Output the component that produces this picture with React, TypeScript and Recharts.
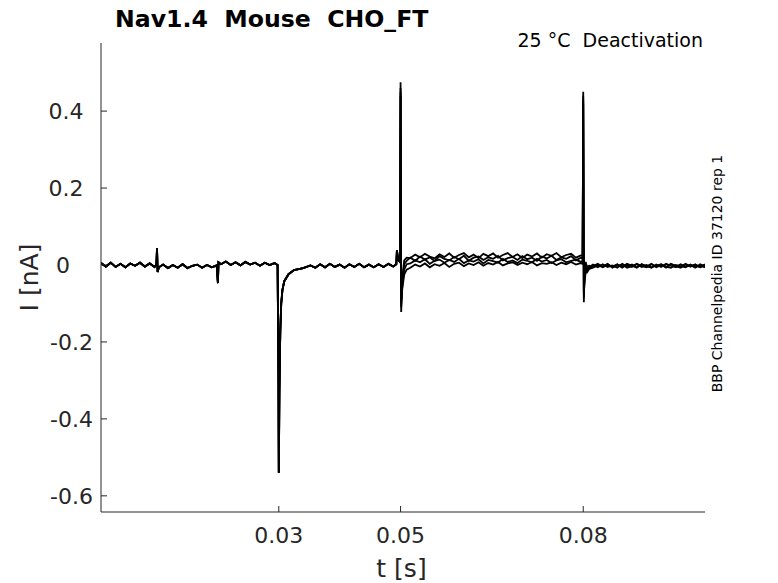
import React from 'react';
import { LineChart, Line, XAxis, YAxis } from 'recharts';

// shared part of every sweep, up to the step at 0.05 s
const preTime = [
  0.0008, 0.0016, 0.0024, 0.0032, 0.004, 0.0048, 0.0056, 0.0064, 0.0072, 0.008,
  0.0088, 0.0096, 0.0099, 0.01, 0.0101, 0.0103, 0.011, 0.0118, 0.0126, 0.0134,
  0.0142, 0.015, 0.0158, 0.0166, 0.0174, 0.0182, 0.019, 0.0198, 0.02, 0.0201,
  0.0205, 0.0213, 0.0221, 0.0229, 0.0237, 0.0245, 0.0253, 0.0261, 0.0269, 0.0277,
  0.0285, 0.0293, 0.0298, 0.02995, 0.03, 0.03005, 0.0301, 0.03025, 0.0304, 0.0306,
  0.0309, 0.0316, 0.0325, 0.034, 0.0352, 0.036, 0.0368, 0.0376, 0.0384, 0.0392,
  0.04, 0.0408, 0.0416, 0.0424, 0.0432, 0.044, 0.0448, 0.0456, 0.0464, 0.0472,
  0.048, 0.0488, 0.0493, 0.0494, 0.0496, 0.0499,
];
const preCurrent = [
  0.005, -0.004, 0.006, -0.005, 0.003, -0.006, 0.004, -0.002, 0.006, -0.004,
  0.004, -0.005, 0.002, 0.044, -0.018, -0.006, 0.001, -0.008, 0.0, -0.007,
  0.002, -0.008, -0.002, 0.001, -0.007, 0.0, -0.006, -0.001, -0.047, 0.007,
  0.002, 0.009, 0.0, 0.007, -0.001, 0.008, 0.001, 0.006, -0.002, 0.006,
  0.0, 0.005, 0.0, -0.3, -0.54, -0.45, -0.33, -0.17, -0.1, -0.065,
  -0.042, -0.024, -0.013, -0.008, -0.001, -0.007, 0.002, -0.006, 0.003, -0.005,
  0.001, -0.007, 0.002, -0.005, 0.003, -0.006, 0.001, -0.006, 0.002, -0.005,
  0.003, -0.004, 0.002, 0.038, 0.014, 0.008,
];

// per-sweep tails from 0.05 s on
const tailTime = [
  0.05, 0.0501, 0.0503, 0.0506, 0.051,
  0.0516, 0.0524, 0.0532, 0.054, 0.0548, 0.0556, 0.0564, 0.0572, 0.058, 0.0588,
  0.0596, 0.0604, 0.0612, 0.062, 0.0628, 0.0636, 0.0644, 0.0652, 0.066, 0.0668,
  0.0676, 0.0684, 0.0692, 0.07, 0.0708, 0.0716, 0.0724, 0.0732, 0.074, 0.0748,
  0.0756, 0.0764, 0.0772, 0.078, 0.0788, 0.0796,
  0.0799, 0.08, 0.0801, 0.0802, 0.0804, 0.0806, 0.081,
  0.0816, 0.0824, 0.0832, 0.084, 0.0848, 0.0856, 0.0864, 0.0872, 0.088, 0.0888,
  0.0896, 0.0904, 0.0912, 0.092, 0.0928, 0.0936, 0.0944, 0.0952, 0.096, 0.0968,
  0.0976, 0.0984, 0.0992, 0.1,
];
const sweepA = [
  0.475, -0.122, -0.03, 0.012, 0.019,
  0.018, 0.027, 0.02, 0.029, 0.022, 0.017, 0.028, 0.021, 0.03, 0.019,
  0.026, 0.031, 0.02, 0.027, 0.018, 0.029, 0.023, 0.03, 0.019, 0.026,
  0.031, 0.021, 0.028, 0.018, 0.027, 0.022, 0.03, 0.019, 0.028, 0.024,
  0.031, 0.02, 0.026, 0.029, 0.019, 0.025,
  0.024, 0.45, -0.097, -0.03, 0.008, -0.004, -0.002,
  -0.006, 0.002, -0.004, 0.003, -0.007, 0.001, -0.005, 0.003, -0.002, -0.007,
  0.002, -0.004, 0.003, -0.006, 0.0, -0.005, 0.003, -0.003, -0.007, 0.002,
  -0.004, 0.001, -0.006, 0.002,
];
const sweepB = [
  0.46, -0.11, -0.04, 0.002, 0.011,
  0.019, 0.011, 0.022, 0.014, 0.02, 0.01, 0.023, 0.016, 0.012, 0.021,
  0.015, 0.024, 0.011, 0.019, 0.022, 0.013, 0.02, 0.016, 0.024, 0.012,
  0.018, 0.021, 0.013, 0.023, 0.015, 0.019, 0.011, 0.022, 0.017, 0.024,
  0.013, 0.02, 0.016, 0.023, 0.012, 0.019,
  0.017, 0.44, -0.085, -0.035, 0.0, -0.009, -0.005,
  0.001, -0.006, 0.002, -0.005, -0.001, -0.007, 0.003, -0.004, 0.001, -0.006,
  0.002, -0.003, -0.007, 0.001, -0.005, 0.003, -0.002, -0.006, 0.002, -0.004,
  0.0, -0.007, 0.002, -0.003,
];
const sweepC = [
  0.45, -0.1, -0.05, -0.012, 0.002,
  0.004, 0.012, 0.007, 0.015, 0.003, 0.011, 0.014, 0.006, 0.013, 0.008,
  0.016, 0.005, 0.012, 0.009, 0.015, 0.004, 0.013, 0.01, 0.006, 0.016,
  0.008, 0.012, 0.005, 0.014, 0.011, 0.007, 0.016, 0.009, 0.013, 0.005,
  0.012, 0.015, 0.007, 0.011, 0.014, 0.008,
  0.01, 0.43, -0.075, -0.04, -0.01, -0.015, -0.007,
  -0.003, 0.003, -0.006, 0.0, -0.004, 0.002, -0.007, 0.001, -0.005, 0.003,
  -0.003, -0.006, 0.002, -0.004, 0.001, -0.007, 0.002, -0.002, -0.005, 0.003,
  -0.004, 0.001, -0.006, 0.0,
];
const sweepD = [
  0.44, -0.09, -0.06, -0.025, -0.012,
  -0.007, 0.001, -0.004, 0.004, -0.006, 0.002, -0.002, 0.005, -0.005, 0.003,
  0.006, -0.003, 0.004, 0.0, 0.007, -0.002, 0.005, 0.001, 0.008, -0.001,
  0.004, 0.007, 0.0, 0.006, 0.002, 0.008, -0.001, 0.005, 0.003, 0.007,
  0.0, 0.006, 0.002, 0.008, 0.001, 0.005,
  0.003, 0.42, -0.065, -0.045, -0.02, -0.02, -0.01,
  -0.007, -0.001, -0.005, 0.002, -0.006, -0.002, 0.001, -0.007, -0.003, 0.002,
  -0.005, 0.0, -0.006, -0.002, 0.002, -0.004, -0.007, 0.0, -0.003, -0.006,
  0.001, -0.005, -0.002, -0.006,
];

const xTicks = [0.03, 0.05, 0.08];
const yTicks = [-0.6, -0.4, -0.2, 0, 0.2, 0.4];

const sweeps = [sweepA, sweepB, sweepC, sweepD].map((tail) => [
  ...preTime.map((t, k) => ({ t, i: preCurrent[k] })),
  ...tailTime.map((t, k) => ({ t, i: tail[k] })),
]);

const font = '"DejaVu Sans", sans-serif';
const axisColor = '#262626';

const XTick = ({ x, y, payload }: any) => (
  <g>
    <line x1={x} y1={y} x2={x} y2={y - 6} stroke={axisColor} />
    <text x={x} y={y + 30.5} textAnchor="middle" fontSize={22} fontFamily={font} fill={axisColor}>
      {String(payload.value)}
    </text>
  </g>
);

const YTick = ({ x, y, payload }: any) => {
  const v = payload.value;
  const neg = v < 0;
  return (
    <g>
      <line x1={x} y1={y} x2={x + 6} y2={y} stroke={axisColor} />
      <text
        x={neg ? x - 8 : x - (v === 0 ? 38 : 35)}
        y={y + 8}
        textAnchor={neg ? 'end' : 'middle'}
        fontSize={22}
        fontFamily={font}
        fill={axisColor}
      >
        {String(v)}
      </text>
    </g>
  );
};

export default function App() {
  return (
    <div style={{ position: 'absolute', left: 0, top: 0, width: 778, height: 583, background: '#fff' }}>
      <LineChart width={778} height={583} margin={{ top: 43, right: 73, bottom: 41, left: 41 }}>
        <XAxis
          type="number"
          dataKey="t"
          domain={[0.0008, 0.1]}
          ticks={xTicks}
          allowDataOverflow
          height={30}
          tickSize={0}
          tickMargin={0}
          tickLine={false}
          axisLine={{ stroke: axisColor }}
          tick={<XTick />}
        />
        <YAxis
          type="number"
          dataKey="i"
          domain={[-0.642, 0.577]}
          ticks={yTicks}
          allowDataOverflow
          width={60}
          tickSize={0}
          tickMargin={0}
          tickLine={false}
          axisLine={{ stroke: axisColor }}
          tick={<YTick />}
        />
        {sweeps.map((d, k) => (
          <Line
            key={k}
            data={d}
            dataKey="i"
            type="linear"
            stroke="#000"
            strokeWidth={1.8}
            dot={false}
            isAnimationActive={false}
          />
        ))}
      </LineChart>
      <svg width={778} height={583} style={{ position: 'absolute', left: 0, top: 0, pointerEvents: 'none' }}>
        <text x={115} y={26.7} fontSize={23.6} fontWeight="bold" fontFamily={font} fill="#000" style={{ whiteSpace: 'pre' }}>
          {'Nav1.4  Mouse  CHO_FT'}
        </text>
        <text x={703} y={47} fontSize={19} textAnchor="end" fontFamily={font} fill="#000" style={{ whiteSpace: 'pre' }}>
          {'25 °C  Deactivation'}
        </text>
        <text x={401.5} y={577} fontSize={25} textAnchor="middle" fontFamily={font} fill={axisColor}>
          t [s]
        </text>
        <text
          x={0}
          y={0}
          fontSize={25}
          textAnchor="middle"
          fontFamily={font}
          fill={axisColor}
          transform="translate(37.5 277.5) rotate(-90)"
        >
          I [nA]
        </text>
        <text
          x={0}
          y={0}
          fontSize={14}
          textAnchor="middle"
          fontFamily={font}
          fill="#000"
          transform="translate(722 273.5) rotate(-90)"
        >
          BBP Channelpedia ID 37120 rep 1
        </text>
      </svg>
    </div>
  );
}
